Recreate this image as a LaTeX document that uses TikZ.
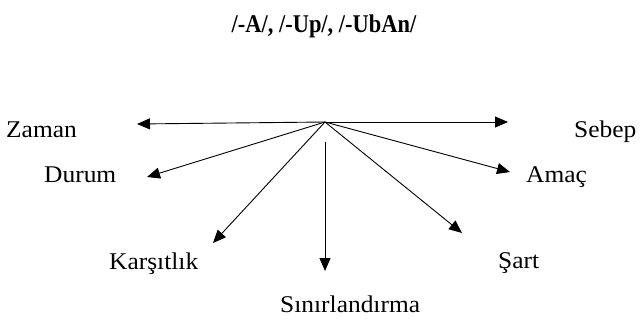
\documentclass[tikz,border=0pt]{standalone}
\usepackage{fontspec}
\setmainfont{Liberation Serif}[FakeStretch=1.06]
\newfontfamily\ttlfont{Liberation Serif}[FakeStretch=0.88]
\usetikzlibrary{arrows.meta}
\begin{document}
\begin{tikzpicture}[x=1pt,y=-1pt,
  lbl/.style={inner sep=0pt,anchor=base west,font=\fontsize{24}{27}\selectfont},
  ttl/.style={inner sep=0pt,anchor=base,font=\ttlfont\fontsize{25.5}{28}\selectfont\bfseries},
  arr/.style={-{Triangle[length=13pt,width=11pt]},line width=0.9pt}]
\useasboundingbox (0,0) rectangle (642,321);
\node[ttl] (title) at (324,33) {/-A/, /-Up/, /-UbAn/};
\coordinate (hub) at (325,122);
\coordinate (hubd) at (325,142);
\node[lbl] (zaman) at (6,137) {Zaman};
\node[lbl] (sebep) at (574,137) {Sebep};
\node[lbl] (durum) at (44,182) {Durum};
\node[lbl] (amac) at (526,182) {Amaç};
\node[lbl] (kars) at (109,269) {Karşıtlık};
\node[lbl] (sart) at (498,268) {Şart};
\node[lbl] (sinir) at (280,312) {Sınırlandırma};
\coordinate (tz) at (137,124);
\coordinate (ts) at (508,122);
\coordinate (td) at (147,177);
\coordinate (ta) at (510,172);
\coordinate (tk) at (213,243);
\coordinate (tsa) at (462,233);
\coordinate (tsi) at (325,271);
\draw[arr] (hub) -- (tz);
\draw[arr] (hub) -- (ts);
\draw[arr] (hub) -- (td);
\draw[arr] (hub) -- (ta);
\draw[arr] (hub) -- (tk);
\draw[arr] (hub) -- (tsa);
\draw[arr] (hubd) -- (tsi);
\end{tikzpicture}
\end{document}
